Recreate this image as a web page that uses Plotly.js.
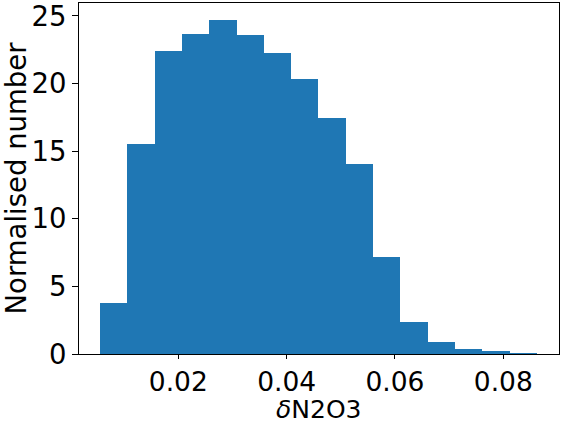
<!DOCTYPE html>
<html>
<head>
<meta charset="utf-8">
<script src="https://cdn.plot.ly/plotly-3.0.1.min.js"></script>
<style>html,body{margin:0;padding:0;background:#fff;}#chart{width:562px;height:425px;}</style>
</head>
<body>
<div id="chart"></div>
<script>
// Bin centres (δN2O3)
const binCenters = [0.00807, 0.01311, 0.01815, 0.02319, 0.02823, 0.03327, 0.03831, 0.04335,
                    0.04839, 0.05343, 0.05847, 0.06351, 0.06855, 0.07359, 0.07863, 0.08367];
const binWidth = 0.00504;
// Normalised counts
const counts = [3.79, 15.51, 22.41, 23.67, 24.70, 23.60, 22.26, 20.34,
                17.46, 14.05, 7.17, 2.37, 0.89, 0.37, 0.22, 0.09];
const xTicks = [0.02, 0.04, 0.06, 0.08];
const xTickLabels = ['0.02', '0.04', '0.06', '0.08'];
const yTicks = [0, 5, 10, 15, 20, 25];

const font = {family: 'DejaVu Sans', size: 27.5, color: '#000'};
const xFont = {family: 'DejaVu Sans', size: 26.5, color: '#000'};

Plotly.newPlot('chart', [{
  type: 'bar',
  x: binCenters,
  y: counts,
  width: binCenters.map(() => binWidth),
  marker: {color: '#1f77b4', line: {width: 0}},
  hoverinfo: 'none'
}], {
  width: 562, height: 425,
  margin: {l: 79, r: 3, t: 3, b: 71},
  paper_bgcolor: '#fff', plot_bgcolor: '#fff',
  showlegend: false,
  bargap: 0,
  font: font,
  xaxis: {
    range: [0.00167, 0.09028],
    tickvals: xTicks, ticktext: xTickLabels,
    ticks: 'outside', ticklen: 4, tickwidth: 1, tickcolor: '#000',
    showline: true, linecolor: '#000', linewidth: 1, mirror: true,
    showgrid: false, zeroline: false,
    tickfont: xFont, ticklabeloverflow: 'allow'
  },
  yaxis: {
    range: [0, 25.96],
    tickvals: yTicks,
    ticks: 'outside', ticklen: 6, tickwidth: 1, tickcolor: '#000',
    showline: true, linecolor: '#000', linewidth: 1, mirror: true,
    showgrid: false, zeroline: false,
    tickfont: font, ticklabeloverflow: 'allow',
    title: {text: 'Normalised number', font: font, standoff: 8}
  },
  annotations: [{
    text: '<i>δ</i>N2O3', font: {family: 'DejaVu Sans', size: 25, color: '#000'},
    xref: 'paper', yref: 'paper', x: 0.5, y: -0.2023,
    xanchor: 'center', yanchor: 'bottom', showarrow: false,
    borderpad: 0
  }]
}, {displayModeBar: false, staticPlot: true});
</script>
</body>
</html>
